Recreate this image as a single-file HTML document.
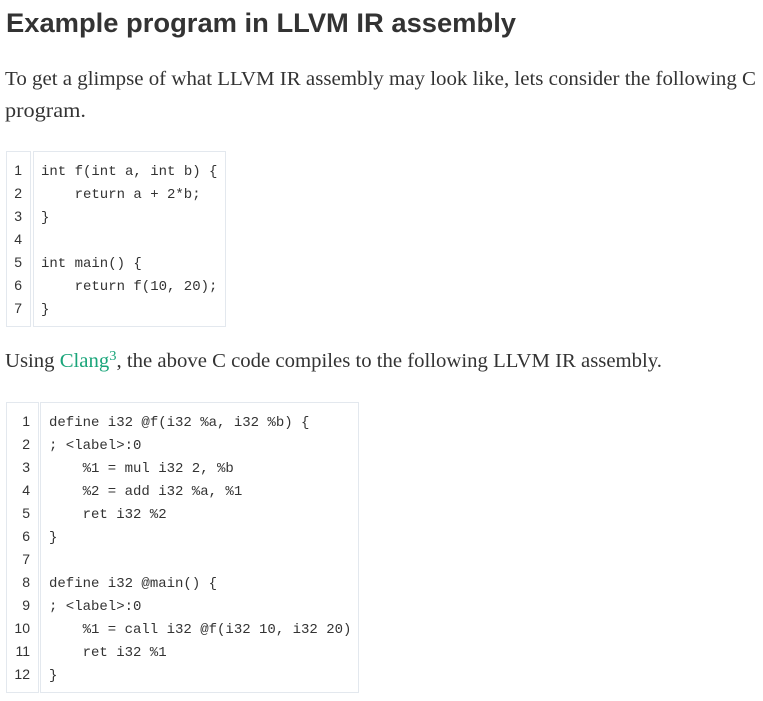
<!DOCTYPE html>
<html><head><meta charset="utf-8"><style>
html,body{margin:0;padding:0;background:#fff;width:763px;height:701px;overflow:hidden}
svg{display:block}
.h{font-family:"Liberation Sans",sans-serif;font-weight:bold;font-size:27px;fill:#333}
.p{font-family:"Liberation Serif",serif;font-size:20px;fill:#333}
.c{font-family:"Liberation Mono",monospace;font-size:14px;fill:#333}
.n{font-family:"Liberation Sans",sans-serif;font-size:14px;fill:#333}
</style></head><body>
<svg width="763" height="701" xmlns="http://www.w3.org/2000/svg">
<text class="h" x="6" y="32" textLength="510" lengthAdjust="spacingAndGlyphs">Example program in LLVM IR assembly</text>
<text class="p" x="5" y="85" textLength="751" lengthAdjust="spacingAndGlyphs">To get a glimpse of what LLVM IR assembly may look like, lets consider the following C</text>
<text class="p" x="5" y="117" textLength="81" lengthAdjust="spacingAndGlyphs">program.</text>
<text class="p" x="5" y="367" textLength="657" lengthAdjust="spacingAndGlyphs">Using <tspan fill="#1aa57a">Clang<tspan dy="-7" font-size="14">3</tspan></tspan><tspan dy="7">, the above C code compiles to the following LLVM IR assembly.</tspan></text>

<rect x="6.5" y="151.5" width="24" height="175" fill="none" stroke="#e3e8ee"/>
<rect x="33.5" y="151.5" width="192" height="175" fill="none" stroke="#e3e8ee"/>
<g class="n" text-anchor="end">
<text x="22" y="175">1</text><text x="22" y="198">2</text><text x="22" y="221">3</text><text x="22" y="244">4</text><text x="22" y="267">5</text><text x="22" y="290">6</text><text x="22" y="313">7</text>
</g>
<g class="c">
<text x="41" y="175">int f(int a, int b) {</text>
<text x="74.6" y="198">return a + 2*b;</text>
<text x="41" y="221">}</text>
<text x="41" y="267">int main() {</text>
<text x="74.6" y="290">return f(10, 20);</text>
<text x="41" y="313">}</text>
</g>

<rect x="6.5" y="402.5" width="32" height="290" fill="none" stroke="#e3e8ee"/>
<rect x="40.5" y="402.5" width="318" height="290" fill="none" stroke="#e3e8ee"/>
<g class="n" text-anchor="end">
<text x="30" y="426">1</text><text x="30" y="449">2</text><text x="30" y="472">3</text><text x="30" y="495">4</text><text x="30" y="518">5</text><text x="30" y="541">6</text><text x="30" y="564">7</text><text x="30" y="587">8</text><text x="30" y="610">9</text><text x="30" y="633">10</text><text x="30" y="656">11</text><text x="30" y="679">12</text>
</g>
<g class="c">
<text x="49" y="426">define i32 @f(i32 %a, i32 %b) {</text>
<text x="49" y="449">; &lt;label&gt;:0</text>
<text x="82.6" y="472">%1 = mul i32 2, %b</text>
<text x="82.6" y="495">%2 = add i32 %a, %1</text>
<text x="82.6" y="518">ret i32 %2</text>
<text x="49" y="541">}</text>
<text x="49" y="587">define i32 @main() {</text>
<text x="49" y="610">; &lt;label&gt;:0</text>
<text x="82.6" y="633">%1 = call i32 @f(i32 10, i32 20)</text>
<text x="82.6" y="656">ret i32 %1</text>
<text x="49" y="679">}</text>
</g>
</svg>
</body></html>
